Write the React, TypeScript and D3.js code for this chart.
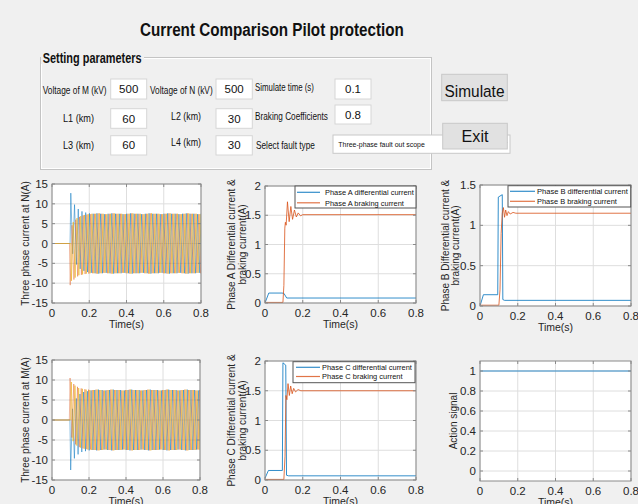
import React, { useLayoutEffect, useRef, useState } from "react";
import * as d3 from "d3";

const W = 638;
const H = 504;
const FONT = "'Liberation Sans', Arial, Helvetica, sans-serif";

const blue = "#0072BD";
const orange = "#D95319";
const yellow = "#EDB120";

// ticks
const timeTicks = [0, 0.2, 0.4, 0.6, 0.8];
const currentTicks = [-15, -10, -5, 0, 5, 10, 15];
const diffTicksAC = [0, 0.5, 1, 1.5, 2];
const diffTicksB = [0, 0.5, 1, 1.5];
const actionTicks = [0, 0.2, 0.4, 0.6, 0.8, 1];

// three-phase currents, read as successive half-cycle peaks (A)
const halfCycle = 0.01;
const nStart = { a: 0.101, b: 0.0977, c: 0.1043 };
const nPeaksA = [12.7, -2.6, 9.8, -5.3, 8.7, -6.4, 8.1, -6.9, 7.8, -7.2, 7.6, -7.4];
const nPeaksB = [-10.5, 4.6, -9.1, 6.0, -8.3, 6.7, -7.9, 7.1, -7.7, 7.3, -7.6, 7.4];
const nPeaksC = [-9.4, 5.4, -8.6, 6.4, -8.0, 6.9, -7.8, 7.2, -7.6, 7.4, -7.5, 7.5];
const mPeaksA = [-12.5, 2.8, -9.6, 5.4, -8.6, 6.5, -8.0, 7.0, -7.8, 7.2, -7.6, 7.4];
const mPeaksB = [10.5, -4.4, 9.0, -6.1, 8.3, -6.8, 7.9, -7.1, 7.7, -7.3, 7.6, -7.4];
const mPeaksC = [9.5, -5.3, 8.6, -6.4, 8.0, -6.9, 7.8, -7.2, 7.6, -7.4, 7.5, -7.5];
const steadyPeaks = [7.5, 7.6, 7.5, 7.4, 7.5, 7.6, 7.5, 7.5, 7.4, 7.5, 7.6, 7.5, 7.5, 7.4, 7.5,
  7.6, 7.5, 7.5, 7.4, 7.5, 7.6, 7.5, 7.5, 7.4, 7.5, 7.6, 7.5, 7.5, 7.4, 7.5];

// differential / braking currents (s, A)
const diffTimeA = [0, 0.02, 0.09, 0.1, 0.115, 0.8];
const diffA = [0, 0.17, 0.17, 0.165, 0.085, 0.085];
const brakeTimeA = [0, 0.095, 0.1, 0.105, 0.108, 0.112, 0.119, 0.128, 0.137, 0.146, 0.156, 0.166, 0.176, 0.188, 0.2, 0.8];
const brakeA = [0.01, 0.01, 0.3, 1.28, 1.38, 1.33, 1.73, 1.39, 1.65, 1.43, 1.59, 1.47, 1.54, 1.49, 1.51, 1.51];

const diffTimeB = [0, 0.018, 0.094, 0.097, 0.118, 0.121, 0.13, 0.8];
const diffB = [0, 0.14, 0.14, 1.35, 1.38, 0.08, 0.07, 0.07];
const brakeTimeB = [0, 0.1, 0.106, 0.112, 0.118, 0.124, 0.13, 0.136, 0.143, 0.15, 0.16, 0.175, 0.19, 0.8];
const brakeB = [0.01, 0.01, 0.2, 0.9, 1.15, 1.22, 1.1, 1.19, 1.12, 1.17, 1.14, 1.16, 1.15, 1.15];

const diffTimeC = [0, 0.018, 0.092, 0.095, 0.11, 0.114, 0.125, 0.8];
const diffC = [0.03, 0.16, 0.16, 1.97, 1.93, 0.08, 0.07, 0.07];
const brakeTimeC = [0, 0.1, 0.106, 0.111, 0.116, 0.122, 0.129, 0.136, 0.144, 0.152, 0.162, 0.175, 0.19, 0.8];
const brakeC = [0.01, 0.01, 0.4, 1.42, 1.35, 1.62, 1.42, 1.58, 1.45, 1.54, 1.48, 1.52, 1.5, 1.5];

const actionTime = [0, 0.8];
const action = [1, 1];

type Pt = [number, number];

const zip = (t: number[], v: number[]): Pt[] => t.map((d, i) => [d, v[i]]);

const buildPhase = (start: number, transient: number[]): Pt[] => {
  const sign = Math.sign(transient[0]);
  const peaks = [...transient, ...steadyPeaks.flatMap((v) => [sign * v, -sign * v])];
  return [[0, 0], [start - 0.004, 0], ...peaks.map((v, k) => [start + k * halfCycle, v] as Pt)];
};

type Series = { pts: Pt[]; color: string; width: number; opacity?: number };

// text squeezed horizontally to the width seen in the picture (glyph height kept)
const CText = ({ x, y, w, size, anchor = "start", weight = "normal", children }: any) => {
  const ref = useRef<SVGTextElement>(null);
  const [k, setK] = useState(1);
  useLayoutEffect(() => {
    const n = ref.current ? ref.current.getComputedTextLength() : 0;
    if (n > 0) setK(w / n);
  }, [w, size]);
  return (
    <text ref={ref} transform={`translate(${x},${y}) scale(${k},1)`} fontSize={size} fontWeight={weight}
      textAnchor={anchor} fill="#111">
      {children}
    </text>
  );
};

const Plot = ({ id, l, t, r, b, yDomain, yTicks, series, yLabel, legend }: any) => {
  const x = d3.scaleLinear().domain([0, 0.8]).range([l, r]);
  const y = d3.scaleLinear().domain(yDomain).range([b, t]);
  const line = d3.line<Pt>().x((d) => x(d[0])).y((d) => y(d[1]));
  const tl = 3;
  return (
    <g fontFamily={FONT}>
      <defs>
        <clipPath id={id}>
          <rect x={l} y={t} width={r - l} height={b - t} />
        </clipPath>
      </defs>
      <rect x={l} y={t} width={r - l} height={b - t} fill="#fff" />
      {timeTicks.map((v) => (
        <line key={"gx" + v} x1={x(v)} x2={x(v)} y1={t} y2={b} stroke="#dedede" />
      ))}
      {yTicks.map((v: number) => (
        <line key={"gy" + v} x1={l} x2={r} y1={y(v)} y2={y(v)} stroke="#dedede" />
      ))}
      <g clipPath={`url(#${id})`}>
        {series.map((s: Series, i: number) => (
          <path key={i} d={line(s.pts) || ""} fill="none" stroke={s.color} strokeWidth={s.width}
            strokeOpacity={s.opacity ?? 0.8} strokeLinejoin="round" />
        ))}
      </g>
      <rect x={l} y={t} width={r - l} height={b - t} fill="none" stroke="#8a8a8a" strokeWidth={1} />
      {timeTicks.map((v) => (
        <g key={"tx" + v}>
          <line x1={x(v)} x2={x(v)} y1={b} y2={b - tl} stroke="#8a8a8a" />
          <line x1={x(v)} x2={x(v)} y1={t} y2={t + tl} stroke="#8a8a8a" />
          <text x={x(v)} y={b + 13.5} fontSize={11.5} textAnchor="middle" fill="#262626">{String(v)}</text>
        </g>
      ))}
      {yTicks.map((v: number) => (
        <g key={"ty" + v}>
          <line x1={l} x2={l + tl} y1={y(v)} y2={y(v)} stroke="#8a8a8a" />
          <line x1={r} x2={r - tl} y1={y(v)} y2={y(v)} stroke="#8a8a8a" />
          <text x={l - 4} y={y(v)} dy="0.36em" fontSize={11.5} textAnchor="end" fill="#262626">{String(v)}</text>
        </g>
      ))}
      <text x={(l + r) / 2} y={b + 24.5} fontSize={10.5} textAnchor="middle" fill="#262626">Time(s)</text>
      {yLabel.map((lab: { text: string; x: number }, i: number) => (
        <text key={i} transform={`translate(${lab.x},${(t + b) / 2}) rotate(-90)`} dy="0.35em" fontSize={10} textAnchor="middle" fill="#262626">
          {lab.text}
        </text>
      ))}
      {legend && (
        <g>
          <rect x={legend.x0} y={legend.y0} width={legend.x1 - legend.x0} height={legend.y1 - legend.y0} fill="#fff" stroke="#555" strokeWidth={1} />
          {legend.items.map((it: any, i: number) => (
            <g key={i}>
              <line x1={legend.lx0} x2={legend.lx1} y1={it.y} y2={it.y} stroke={it.color} strokeOpacity={0.8} strokeWidth={1.2} />
              <CText x={legend.tx} y={it.y + 2.8} w={it.w} size={8}>{it.text}</CText>
            </g>
          ))}
        </g>
      )}
    </g>
  );
};

const Edit = ({ x0, y0, x1, y1, value }: any) => (
  <g>
    <rect x={x0} y={y0} width={x1 - x0} height={y1 - y0} fill="#fff" stroke="#d6d6d6" />
    <text x={(x0 + x1) / 2} y={(y0 + y1) / 2} dy="0.36em" fontSize={11.5} textAnchor="middle" fill="#111">{value}</text>
  </g>
);

const Label = ({ x, y, w, text, size = 11 }: any) => (
  <CText x={x} y={y} w={w} size={size}>{text}</CText>
);

export default function App() {
  const threeN: Series[] = [
    { pts: buildPhase(nStart.a, nPeaksA), color: blue, width: 0.9, opacity: 0.55 },
    { pts: buildPhase(nStart.b, nPeaksB), color: orange, width: 0.9, opacity: 0.45 },
    { pts: buildPhase(nStart.c, nPeaksC), color: yellow, width: 0.9, opacity: 0.7 },
  ];
  const threeM: Series[] = [
    { pts: buildPhase(nStart.a, mPeaksA), color: blue, width: 0.9, opacity: 0.55 },
    { pts: buildPhase(nStart.b, mPeaksB), color: orange, width: 0.9, opacity: 0.45 },
    { pts: buildPhase(nStart.c, mPeaksC), color: yellow, width: 0.9, opacity: 0.7 },
  ];

  return (
    <svg width={W} height={H} style={{ position: "absolute", left: 0, top: 0, background: "#f0f0f0" }} fontFamily={FONT}>
      <rect x={0} y={0} width={W} height={H} fill="#f0f0f0" />
      <CText x={140} y={35.5} w={264} size={18.5} weight="bold">Current Comparison Pilot protection</CText>

      {/* settings panel */}
      <rect x={40.5} y={57.5} width={391} height={112} fill="none" stroke="#c4c4c4" />
      <rect x={41.5} y={58.5} width={389} height={110} fill="none" stroke="#fff" />
      <rect x={41} y={50} width={103} height={14} fill="#f0f0f0" />
      <CText x={42.7} y={63.3} w={99} size={14} weight="bold">Setting parameters</CText>

      <Label x={42.7} y={94} w={64} text="Voltage of M (kV)" />
      <Edit x0={110.7} y0={79} x1={146.7} y1={99} value="500" />
      <Label x={150} y={94} w={62.7} text="Voltage of N (kV)" />
      <Edit x0={216} y0={79} x1={252.3} y1={99} value="500" />
      <Label x={255} y={91} w={59} text="Simulate time (s)" />
      <Edit x0={335} y0={79} x1={371} y1={99} value="0.1" />

      <Label x={63} y={122} w={31} text="L1 (km)" />
      <Edit x0={110.7} y0={108.7} x1={146.7} y1={128.3} value="60" />
      <Label x={171} y={120} w={30} text="L2 (km)" />
      <Edit x0={216} y0={108.7} x1={252.3} y1={128.3} value="30" />
      <Label x={255} y={120} w={73} text="Braking Coefficients" />
      <Edit x0={335} y0={105} x1={371} y1={124} value="0.8" />

      <Label x={63} y={149} w={31} text="L3 (km)" />
      <Edit x0={110.7} y0={135.7} x1={146.7} y1={155} value="60" />
      <Label x={171} y={146} w={30} text="L4 (km)" />
      <Edit x0={216} y0={135.7} x1={252.3} y1={155} value="30" />
      <Label x={256} y={148.5} w={59} text="Select fault type" />
      <rect x={333} y={135} width={177} height={18.3} fill="#fff" stroke="#c8c8c8" />
      <CText x={338.3} y={147} w={86.7} size={8}>Three-phase fault out scope</CText>
      <path d="M502.5,142.5 L505,145 L507.5,142.5" fill="none" stroke="#888" strokeWidth={0.8} />

      {/* buttons */}
      <rect x={441.7} y={74.3} width={65.6} height={26.4} fill="#e1e1e1" stroke="#c9c9c9" />
      <CText x={474.5} y={96.5} w={60} size={16.5} anchor="middle">Simulate</CText>
      <rect x={442.7} y={123.3} width={64.6} height={25.7} fill="#e1e1e1" stroke="#c9c9c9" />
      <CText x={475} y={141.5} w={27} size={16.5} anchor="middle">Exit</CText>

      <Plot id="c1" l={52} t={184} r={201} b={303} yDomain={[-15, 15]} yTicks={currentTicks} series={threeN}
        yLabel={[{ text: "Three phase current at N(A)", x: 25 }]} />
      <Plot id="c2" l={265} t={186} r={416} b={303} yDomain={[0, 2]} yTicks={diffTicksAC}
        series={[
          { pts: zip(diffTimeA, diffA), color: blue, width: 1 },
          { pts: zip(brakeTimeA, brakeA), color: orange, width: 1 },
        ]}
        yLabel={[{ text: "Phase A Differential current &", x: 231.7 }, { text: "braking current(A)", x: 242.7 }]}
        legend={{
          x0: 295, y0: 186, x1: 416, y1: 208, lx0: 297, lx1: 320, tx: 325,
          items: [
            { y: 192.3, color: blue, text: "Phase A differential current", w: 89 },
            { y: 202.8, color: orange, text: "Phase A braking current", w: 79 },
          ],
        }} />
      <Plot id="c3" l={480} t={185} r={631} b={306} yDomain={[0, 1.5]} yTicks={diffTicksB}
        series={[
          { pts: zip(diffTimeB, diffB), color: blue, width: 1 },
          { pts: zip(brakeTimeB, brakeB), color: orange, width: 1 },
        ]}
        yLabel={[{ text: "Phase B Differential current &", x: 445 }, { text: "braking current(A)", x: 455 }]}
        legend={{
          x0: 508, y0: 185.7, x1: 630.7, y1: 207, lx0: 510, lx1: 535, tx: 537,
          items: [
            { y: 191.3, color: blue, text: "Phase B differential current", w: 91 },
            { y: 201.3, color: orange, text: "Phase B braking current", w: 80 },
          ],
        }} />
      <Plot id="c4" l={52} t={360} r={200} b={480} yDomain={[-15, 15]} yTicks={currentTicks} series={threeM}
        yLabel={[{ text: "Three phase current at M(A)", x: 25 }]} />
      <Plot id="c5" l={265} t={361} r={416} b={480} yDomain={[0, 2]} yTicks={diffTicksAC}
        series={[
          { pts: zip(diffTimeC, diffC), color: blue, width: 1 },
          { pts: zip(brakeTimeC, brakeC), color: orange, width: 1 },
        ]}
        yLabel={[{ text: "Phase C Differential current &", x: 231.7 }, { text: "braking current(A)", x: 242.3 }]}
        legend={{
          x0: 293, y0: 361.7, x1: 415, y1: 382.7, lx0: 296, lx1: 320, tx: 322,
          items: [
            { y: 367.3, color: blue, text: "Phase C differential current", w: 90 },
            { y: 376.5, color: orange, text: "Phase C braking current", w: 80.7 },
          ],
        }} />
      <Plot id="c6" l={480} t={361} r={631} b={481} yDomain={[-0.1, 1.1]} yTicks={actionTicks}
        series={[{ pts: zip(actionTime, action), color: blue, width: 1 }]}
        yLabel={[{ text: "Action signal", x: 453.3 }]} />
    </svg>
  );
}
